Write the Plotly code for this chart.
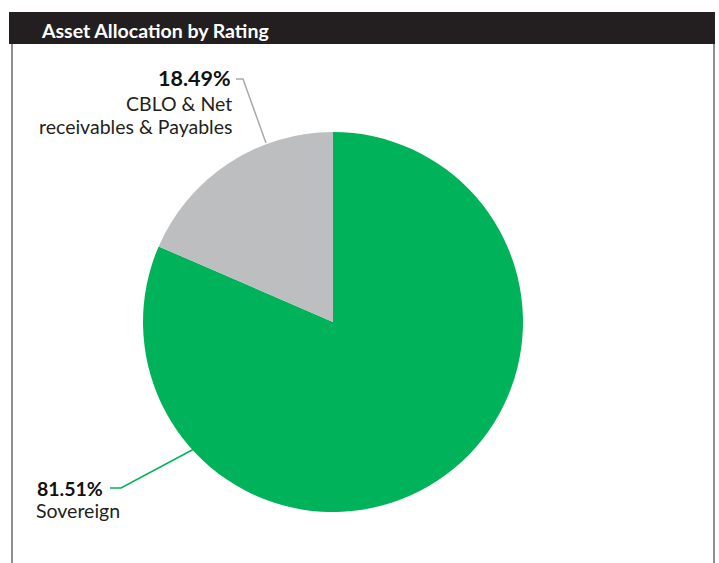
import plotly.graph_objects as go

W, H = 719, 563
OFF = 0

labels = ["Sovereign", "CBLO & Net receivables & Payables"]
values = [81.51, 18.49]
colors = ["#00B259", "#BCBEC0"]
title_text = "Asset Allocation by Rating"

def px_x(x):
    return (x - OFF) / W

def px_y(y):
    return 1 - (y - OFF) / H

cx, cy, r = 333, 322, 190

fig = go.Figure()
fig.add_trace(go.Pie(
    labels=labels,
    values=values,
    marker=dict(colors=colors, line=dict(width=0)),
    sort=False,
    direction="clockwise",
    rotation=0,
    textinfo="none",
    hoverinfo="label+percent",
    showlegend=False,
    domain=dict(x=[px_x(cx - r), px_x(cx + r)], y=[px_y(cy + r), px_y(cy - r)]),
))

shapes = [
    # header bar
    dict(type="rect", xref="paper", yref="paper", x0=px_x(9), x1=px_x(715), y0=px_y(44), y1=px_y(12),
         fillcolor="#231F20", line=dict(width=0), layer="below"),
    # side borders
    dict(type="line", xref="paper", yref="paper", x0=px_x(12), x1=px_x(12), y0=px_y(44), y1=px_y(600),
         line=dict(color="#8E8E8E", width=2)),
    dict(type="line", xref="paper", yref="paper", x0=px_x(714), x1=px_x(714), y0=px_y(44), y1=px_y(600),
         line=dict(color="#8E8E8E", width=2)),
    # leader lines
    dict(type="path", xref="paper", yref="paper",
         path=f"M {px_x(236)},{px_y(79)} L {px_x(243)},{px_y(79)} L {px_x(266)},{px_y(143)}",
         line=dict(color="#A7A9AC", width=1.5)),
    dict(type="path", xref="paper", yref="paper",
         path=f"M {px_x(110)},{px_y(488)} L {px_x(121)},{px_y(488)} L {px_x(194)},{px_y(449)}",
         line=dict(color="#00B259", width=1.5)),
]

font_fam = "Lato, 'Open Sans', sans-serif"
annotations = [
    dict(text=f"<b>{title_text}</b>", x=px_x(39), y=px_y(30), xref="paper", yref="paper",
         xanchor="left", yanchor="middle", showarrow=False,
         font=dict(family=font_fam, size=19.5, color="white")),
    dict(text=f"<b>{values[1]:.2f}%</b>", x=px_x(233), y=px_y(78), xref="paper", yref="paper",
         xanchor="right", yanchor="middle", showarrow=False,
         font=dict(family=font_fam, size=21.5, color="#111")),
    dict(text="CBLO & Net", x=px_x(234), y=px_y(103), xref="paper", yref="paper",
         xanchor="right", yanchor="middle", showarrow=False,
         font=dict(family=font_fam, size=19.5, color="#231F20")),
    dict(text="receivables & Payables", x=px_x(234), y=px_y(127), xref="paper", yref="paper",
         xanchor="right", yanchor="middle", showarrow=False,
         font=dict(family=font_fam, size=19.5, color="#231F20")),
    dict(text=f"<b>{values[0]:.2f}%</b>", x=px_x(35), y=px_y(488), xref="paper", yref="paper",
         xanchor="left", yanchor="middle", showarrow=False,
         font=dict(family=font_fam, size=19.5, color="#111")),
    dict(text=labels[0], x=px_x(34), y=px_y(510), xref="paper", yref="paper",
         xanchor="left", yanchor="middle", showarrow=False,
         font=dict(family=font_fam, size=19.5, color="#231F20")),
]

fig.update_layout(
    width=W, height=H,
    margin=dict(l=0, r=0, t=0, b=0),
    paper_bgcolor="white",
    plot_bgcolor="white",
    shapes=shapes,
    annotations=annotations,
)

fig.write_html(
    "out.html",
    config={"displayModeBar": False},
    post_script="document.body.style.margin='0';document.body.style.overflow='hidden';",
)
